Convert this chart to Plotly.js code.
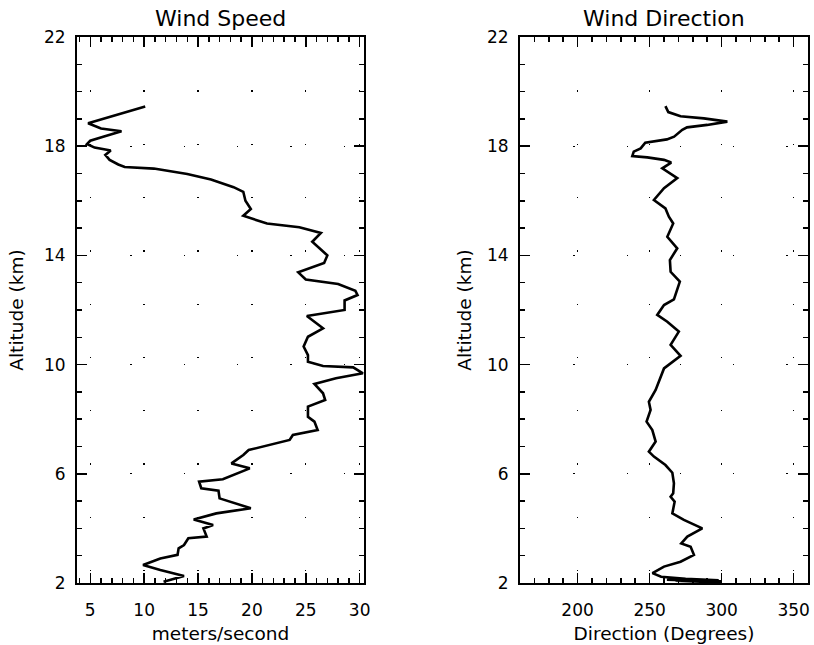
<!DOCTYPE html>
<html>
<head>
<meta charset="utf-8">
<script src="https://cdn.plot.ly/plotly-3.0.1.min.js"></script>
<style>
  html, body { margin: 0; padding: 0; background: #fff; }
  #chart { width: 814px; height: 645px; }
</style>
</head>
<body>
<div id="chart"></div>
<script>
// Sounding profile: wind speed (m/s) and direction (deg) against altitude (km)
const speedAltitude = [19.45, 19.3, 19.2, 19.08, 18.93, 18.84, 18.65, 18.55, 18.35, 18.2,
  18.08, 17.95, 17.84, 17.68, 17.5, 17.33, 17.24, 17.18, 16.98, 16.78,
  16.5, 16.33, 16.0, 15.7, 15.45, 15.17, 15.03, 14.82, 14.5, 14.0,
  13.72, 13.38, 13.12, 12.95, 12.7, 12.55, 12.35, 12.0, 11.78, 11.33,
  11.02, 10.66, 10.35, 10.1, 9.95, 9.9, 9.68, 9.5, 9.29, 8.95,
  8.7, 8.46, 8.09, 7.91, 7.6, 7.42, 7.24, 7.05, 6.87, 6.69,
  6.38, 6.2, 6.08, 5.8, 5.71, 5.47, 5.38, 5.1, 4.74, 4.55,
  4.33, 4.19, 4.12, 4.0, 3.7, 3.64, 3.39, 3.27, 3.03, 2.9,
  2.66, 2.48, 2.26, 2.05];
const windSpeed = [10.1, 8.8, 7.8, 6.9, 5.6, 4.8, 6.0, 7.9, 6.2, 5.0,
  4.7, 5.4, 6.9, 6.4, 6.8, 7.6, 8.2, 10.9, 14.0, 16.2,
  18.3, 19.2, 19.4, 19.9, 19.2, 21.4, 24.4, 26.4, 25.6, 27.0,
  26.7, 24.3, 25.0, 28.0, 29.6, 29.8, 28.6, 28.6, 25.1, 26.6,
  25.2, 24.8, 25.2, 25.2, 26.6, 29.4, 30.3, 27.8, 25.8, 26.6,
  26.8, 25.2, 25.2, 25.8, 26.1, 23.8, 23.5, 21.4, 19.7, 19.2,
  18.1, 19.8, 19.0, 17.3, 15.1, 15.3, 16.9, 17.0, 19.9, 16.7,
  14.6, 15.8, 16.4, 15.5, 15.8, 14.1, 13.7, 13.2, 13.1, 11.5,
  9.9, 11.5, 13.7, 11.8];

const directionAltitude = [19.47, 19.25, 19.1, 19.02, 18.9, 18.78, 18.69, 18.6, 18.35, 18.25,
  18.13, 17.92, 17.8, 17.64, 17.59, 17.5, 17.4, 17.19, 16.83, 16.46,
  16.03, 15.72, 15.42, 15.17, 14.68, 14.26, 13.83, 13.4, 13.04, 12.76,
  12.55, 12.39, 12.18, 11.82, 11.57, 11.21, 10.72, 10.32, 9.86, 9.5,
  9.07, 8.64, 8.34, 7.91, 7.6, 7.18, 6.81, 6.63, 6.32, 6.04,
  5.65, 5.29, 5.16, 4.98, 4.55, 4.31, 4.0, 3.7, 3.45, 3.33,
  3.03, 2.78, 2.6, 2.36, 2.23, 2.15, 2.1, 2.12, 2.06, 2.08,
  2.04, 2.02];
const windDirection = [261, 263, 271.5, 287.7, 304, 290, 276, 272.7, 267, 262,
  247, 243.8, 239, 238, 248.4, 260, 265, 258.8, 269.2, 260,
  253, 261, 263.4, 266.4, 262.3, 269.2, 264.1, 264.6, 271, 269.2,
  268.1, 266.9, 260, 255.3, 262.3, 270.3, 264.6, 271.5, 260, 257.6,
  254.2, 249.5, 250.7, 247.9, 251.9, 254.2, 249.5, 253, 261, 265.8,
  266.9, 266.4, 264.6, 267.4, 265.8, 273.8, 286.6, 276.2, 272, 278.5,
  280.8, 271.5, 260, 252, 258, 275, 298, 262, 300, 268,
  296, 300];

const altitudeTicks = [2, 6, 10, 14, 18, 22];
const speedTicks = [5, 10, 15, 20, 25, 30];
const directionTicks = [200, 250, 300, 350];

const FONT = 'DejaVu Sans, Liberation Sans, sans-serif';

function minorTicks(step) {
  return { ticks: 'inside', ticklen: 5, tickwidth: 1.5, tickcolor: '#000', dtick: step, tick0: 0, showgrid: false };
}

function frameAxis(extra) {
  return Object.assign({
    showline: true, linewidth: 2, linecolor: '#000', mirror: 'ticks',
    ticks: 'inside', ticklen: 10, tickwidth: 1.5, tickcolor: '#000',
    showgrid: true, gridcolor: '#000', gridwidth: 1.3, griddash: '1.3px,52px',
    zeroline: false, automargin: false,
    tickfont: { family: FONT, size: 17, color: '#000' }
  }, extra);
}

const traces = [
  { x: windSpeed, y: speedAltitude, xaxis: 'x', yaxis: 'y', mode: 'lines',
    line: { color: '#000', width: 2.6 }, hoverinfo: 'x+y' },
  { x: windDirection, y: directionAltitude, xaxis: 'x2', yaxis: 'y2', mode: 'lines',
    line: { color: '#000', width: 2.6 }, hoverinfo: 'x+y' }
];

const axisTitleFont = { family: FONT, size: 18.5, color: '#000' };

const layout = {
  width: 814, height: 645,
  margin: { l: 77, r: 6, t: 37, b: 62 },
  paper_bgcolor: '#fff', plot_bgcolor: '#fff',
  showlegend: false,
  font: { family: FONT, color: '#000' },
  xaxis: frameAxis({
    domain: [0, 0.3926], anchor: 'y', range: [3.77, 30.4],
    tickmode: 'array', tickvals: speedTicks, ticklabelstandoff: 11,
    minor: minorTicks(1),
    title: { text: 'meters/second', font: axisTitleFont, standoff: 8 }
  }),
  yaxis: frameAxis({
    domain: [0, 1], anchor: 'x', range: [2, 22],
    tickmode: 'array', tickvals: altitudeTicks, ticklabelstandoff: 6,
    minor: minorTicks(1),
    title: { text: 'Altitude (km)', font: axisTitleFont, standoff: 15 }
  }),
  xaxis2: frameAxis({
    domain: [0.606, 1], anchor: 'y2', range: [160, 360],
    tickmode: 'array', tickvals: directionTicks, ticklabelstandoff: 11,
    minor: minorTicks(10),
    title: { text: 'Direction (Degrees)', font: axisTitleFont, standoff: 8 }
  }),
  yaxis2: frameAxis({
    domain: [0, 1], anchor: 'x2', range: [2, 22],
    tickmode: 'array', tickvals: altitudeTicks, ticklabelstandoff: 6,
    minor: minorTicks(1),
    title: { text: 'Altitude (km)', font: axisTitleFont, standoff: 10 }
  }),
  annotations: [
    { text: 'Wind Speed', xref: 'x domain', yref: 'paper', x: 0.5, y: 1, yshift: 19,
      xanchor: 'center', yanchor: 'middle', showarrow: false,
      font: { family: FONT, size: 22, color: '#000' } },
    { text: 'Wind Direction', xref: 'x2 domain', yref: 'paper', x: 0.5, y: 1, yshift: 19,
      xanchor: 'center', yanchor: 'middle', showarrow: false,
      font: { family: FONT, size: 22, color: '#000' } }
  ]
};

Plotly.newPlot('chart', traces, layout, { displayModeBar: false, staticPlot: true });
</script>
</body>
</html>
